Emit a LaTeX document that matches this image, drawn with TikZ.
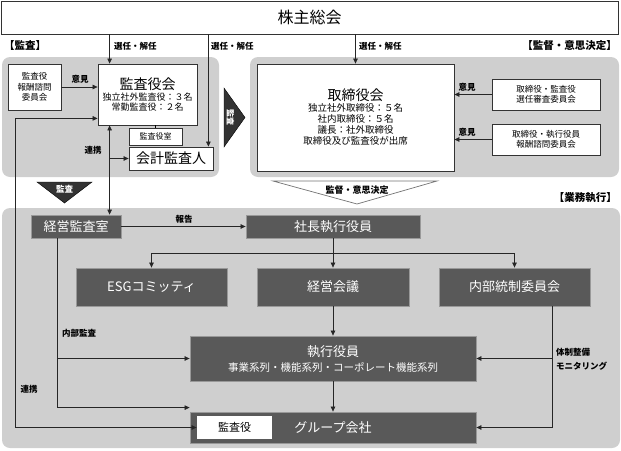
\documentclass[tikz,border=0pt]{standalone}
\usepackage{fontspec}
\setmainfont{Noto Sans CJK JP}
\usetikzlibrary{positioning,calc,arrows.meta}

\newcommand{\fsz}[2]{\fontsize{#1}{#2}\selectfont}

\tikzset{
  whitebox/.style={draw=black!80, fill=white, line width=0.8pt, inner sep=0pt, align=center},
  darkbox/.style={draw=black!40, fill=black!65, text=white, line width=0.8pt, inner sep=0pt, align=center, font=\fsz{13}{15}},
  panel/.style={fill=black!19, rounded corners=8pt},
  arr/.style={-{Triangle[length=5pt,width=4.5pt]}, line width=0.7pt, draw=black!85},
  darr/.style={{Triangle[length=5pt,width=4.5pt]}-{Triangle[length=5pt,width=4.5pt]}, line width=0.7pt, draw=black!85},
  lbl/.style={font=\fsz{8.5}{10}\bfseries, inner sep=0pt},
  head/.style={font=\fsz{10.5}{12}\bfseries, inner sep=0pt},
  tri/.style={fill=black!80, draw=black},
}

\begin{document}
\begin{tikzpicture}[x=1pt,y=-1pt]
\useasboundingbox (0,0) rectangle (621,450);

% panels
\fill[panel] (2,57) rectangle (219,177);
\fill[panel] (250,57) rectangle (619,177);
\fill[panel] (2,208) rectangle (620,448);

\node[whitebox, minimum width=617, minimum height=33, font=\fsz{16}{18}] (soukai) at (309.5,17.5) {株主総会};

% audit side
\node[whitebox, minimum width=53, minimum height=46, font=\fsz{8.5}{10.5}] (kansahoushu) at (34.5,87) {監査役\\報酬諮問\\委員会};
\node[whitebox, minimum width=99, minimum height=61, font=\fsz{9}{10.5}] (kansayakukai) at (147.5,94.5)
  {{\fsz{14}{16}監査役会}\\独立社外監査役：３名\\常勤監査役：２名};
\node[whitebox, minimum width=53, minimum height=17, font=\fsz{8}{10}] (kansashitsu) at (155.5,136.5) {監査役室};
\node[whitebox, minimum width=84, minimum height=23, font=\fsz{14}{16}] (kaikei) at (171,158.5) {会計監査人};

% board side
\node[whitebox, minimum width=197, minimum height=107, font=\fsz{9.5}{11}] (torishimari) at (355.5,117.5)
  {{\fsz{14}{16}取締役会}\\独立社外取締役：５名\\社内取締役：５名\\議長：社外取締役\\取締役及び監査役が出席};
\node[whitebox, minimum width=108, minimum height=31, font=\fsz{8.5}{10.5}] (senin) at (546,94.5) {取締役・監査役\\選任審査委員会};
\node[whitebox, minimum width=108, minimum height=31, font=\fsz{8.5}{10.5}] (yakuinhoushu) at (546,139.5) {取締役・執行役員\\報酬諮問委員会};

% execution side
\node[darkbox, minimum width=90, minimum height=23] (keieikansa) at (76,226.5) {経営監査室};
\node[darkbox, minimum width=174, minimum height=23] (shacho) at (333,226.5) {社長執行役員};
\node[darkbox, minimum width=151, minimum height=38] (esg) at (151.5,287) {ESGコミッティ};
\node[darkbox, minimum width=152, minimum height=38] (kaigi) at (333,287) {経営会議};
\node[darkbox, minimum width=151, minimum height=38] (naibu) at (514.5,287) {内部統制委員会};
\node[darkbox, minimum width=286, minimum height=45] (shikko) at (333,358.5)
  {執行役員\\{\fsz{10.5}{12}事業系列・機能系列・コーポレート機能系列}};
\node[darkbox, minimum width=286, minimum height=31] (group) at (333,427.5) {グループ会社};
\node[whitebox, draw=none, minimum width=75, minimum height=23, font=\fsz{11}{13}] (groupkansa) at (234.5,427.5) {監査役};

% triangles
\fill[tri] (37,182) -- (92,182) -- (64.5,203) -- cycle;
\node[lbl, text=white] (kansatri) at (64.5,189) {監査};
\fill[tri] (224,88) -- (245,117.5) -- (224,147) -- cycle;
\node[lbl, font=\fsz{8}{10}\bfseries, text=white, rotate=-90] (kansatri2) at (230.5,117.5) {監査};
\filldraw[fill=white, draw=black!55, line width=0.7pt] (273,181) -- (437,181) -- (357,204) -- cycle;
\node[lbl, font=\fsz{9}{11}\bfseries] (kantoku) at (357,190) {監督・意思決定};

% headings
\node[head, anchor=west] (hkansa) at (4,46) {【監査】};
\node[head, anchor=east] (hkantoku) at (617,46) {【監督・意思決定】};
\node[head, anchor=east] (hgyomu) at (617,198) {【業務執行】};

% coordinates
\coordinate (k1) at ([xshift=12pt]kansayakukai.north west);
\coordinate (k2) at ([xshift=-5pt]kaikei.north east);
\coordinate (k3) at ([xshift=12pt]kansayakukai.south west);
\coordinate (m1) at ([xshift=27pt]keieikansa.south west);
\coordinate (n1) at ([xshift=-38pt]naibu.south east);
\coordinate (br) at ([yshift=-15pt]shacho.south);

% connectors
\draw[arr] (soukai.south -| k1) -- (k1);
\draw[arr] (soukai.south -| k2) -- (k2);
\draw[arr] (soukai.south -| torishimari.north) -- (torishimari.north);
\node[lbl, anchor=west] (sen1) at (114,46) {選任・解任};
\node[lbl, anchor=west] (sen2) at (211,46) {選任・解任};
\node[lbl, anchor=west] (sen3) at (359,46) {選任・解任};

\draw[arr] (kansahoushu.east) -- (kansahoushu.east -| kansayakukai.west);
\node[lbl] (iken1) at (80,79) {意見};
\draw (kansayakukai.south -| kansashitsu.north) -- (kansashitsu.north);
\draw[darr] (k3) -- (k3 |- keieikansa.north);
\draw[arr] (k3 |- kaikei.west) -- (kaikei.west);
\node[lbl] (renkei1) at (93,150) {連携};

\draw[arr] (senin.west) -- (senin.west -| torishimari.east);
\draw[arr] (yakuinhoushu.west) -- (yakuinhoushu.west -| torishimari.east);
\node[lbl] (iken2) at (467,87) {意見};
\node[lbl] (iken3) at (467,132) {意見};

\draw[darr] ([yshift=7pt]kansayakukai.south west) -| ([xshift=-181pt]groupkansa.west) -- (groupkansa.west);
\node[lbl] (renkei2) at (29,389) {連携};

\draw[arr] (keieikansa.east) -- (shacho.west);
\node[lbl] (houkoku) at (184,219) {報告};
\draw[arr] (shacho.south) -- (kaigi.north);
\draw[arr] (br) -| (esg.north);
\draw[arr] (br) -| (naibu.north);
\draw[arr] (kaigi.south) -- (shikko.north);
\draw[arr] (shikko.south) -- (group.north);

\draw[arr] (m1) |- ([yshift=4pt]group.north west);
\draw[arr] (m1 |- shikko.west) -- (shikko.west);
\node[lbl, anchor=west] (naibukansa) at (62,333) {内部監査};

\draw[arr] (n1) |- (group.east);
\draw[arr] (n1 |- shikko.east) -- (shikko.east);
\node[lbl, anchor=west, align=left, font=\fsz{8.5}{14}\bfseries] (taisei) at (556,359) {体制整備\\モニタリング};
\end{tikzpicture}
\end{document}
